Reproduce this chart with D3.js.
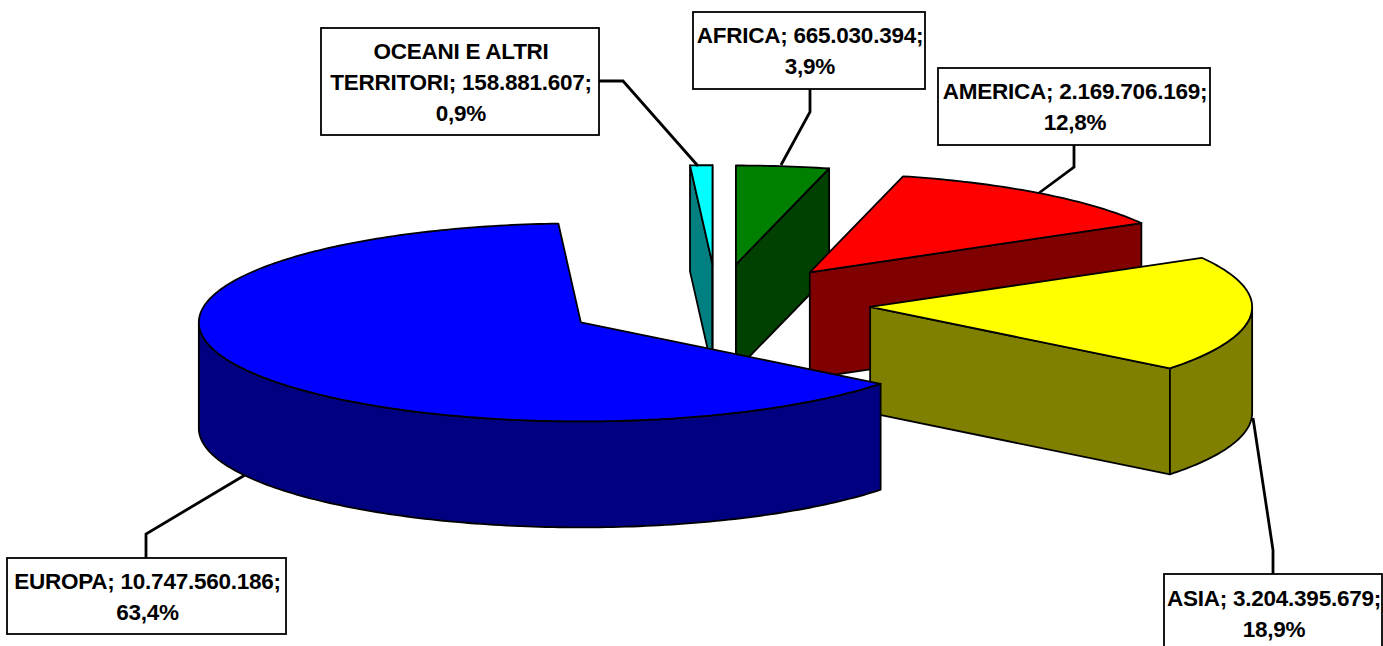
<!DOCTYPE html>
<html>
<head>
<meta charset="utf-8">
<script src="https://cdn.jsdelivr.net/npm/d3@7"></script>
<style>
html, body { margin: 0; padding: 0; background: #fff; overflow: hidden; }
svg { display: block; }
.label-text { font-family: "Liberation Sans", Arial, sans-serif; font-weight: bold; font-size: 22.5px; letter-spacing: -0.25px; text-anchor: middle; fill: #000; }
</style>
</head>
<body>
<div id="chart"></div>
<script>
var categories = ["EUROPA", "OCEANI E ALTRI TERRITORI", "AFRICA", "AMERICA", "ASIA"];
var values = [10747560186, 158881607, 665030394, 2169706169, 3204395679];
var valueLabels = ["10.747.560.186", "158.881.607", "665.030.394", "2.169.706.169", "3.204.395.679"];
var percentLabels = ["63,4%", "0,9%", "3,9%", "12,8%", "18,9%"];
var topColors = ["#0000ff", "#00ffff", "#008000", "#ff0000", "#ffff00"];
var sideColors = ["#000080", "#008080", "#004000", "#800000", "#808000"];

var width = 1383;
var height = 646;
var cx = 717;
var cy = 304;
var rx = 382;
var ry = 99;
var depth = 106;
var explode = 0.402;
var startDeg = 128.3;

// back slices first, Europa sits in front of all of them
var drawOrder = [1, 2, 3, 4, 0];

// label boxes and leader lines, same order as categories
var labelLayout = [
  { x: 7, y: 558, w: 279, h: 76, lines: ["EUROPA; " + valueLabels[0] + ";", percentLabels[0]], leader: [[146, 558], [146, 534], [245, 475]], first: 589 },
  { x: 321, y: 28, w: 278, h: 107, lines: ["OCEANI E ALTRI", "TERRITORI; " + valueLabels[1] + ";", percentLabels[1]], leader: [[599, 81], [623, 81], [698, 166]], first: 59 },
  { x: 693, y: 12, w: 232, h: 77, lines: ["AFRICA; " + valueLabels[2] + ";", percentLabels[2]], leader: [[810, 89], [810, 112], [781, 165]], first: 43 },
  { x: 938, y: 68, w: 272, h: 77, lines: ["AMERICA; " + valueLabels[3] + ";", percentLabels[3]], leader: [[1074, 145], [1074, 167], [1039, 193]], first: 99 },
  { x: 1164, y: 574, w: 218, h: 90, lines: ["ASIA; " + valueLabels[4] + ";", percentLabels[4]], leader: [[1273, 574], [1273, 550], [1253, 418]], first: 606 }
];

var rad = Math.PI / 180;

var xScale = d3.scaleLinear().domain([-1, 1]).range([cx - rx, cx + rx]);
var yScale = d3.scaleLinear().domain([-1, 1]).range([cy - ry, cy + ry]);

var pie = d3.pie()
  .sort(null)
  .startAngle(startDeg * rad)
  .endAngle((startDeg + 360) * rad);

var slices = pie(values);

var svg = d3.select("#chart").append("svg")
  .attr("width", width)
  .attr("height", height);

var line = d3.line();

// projected point on the tilted disc, r = 1 is the rim
function project(angle, r, slice, drop) {
  var mid = (slice.startAngle + slice.endAngle) / 2;
  var ux = r * Math.sin(angle) + explode * Math.sin(mid);
  var uy = -r * Math.cos(angle) - explode * Math.cos(mid);
  return [xScale(ux), yScale(uy) + (drop || 0)];
}

function rimPoints(a0, a1, slice, drop) {
  var n = Math.max(2, Math.ceil((a1 - a0) / rad));
  return d3.range(n + 1).map(function(i) {
    return project(a0 + (a1 - a0) * i / n, 1, slice, drop);
  });
}

function shape(g, pts, fill) {
  g.append("path")
    .attr("d", line(pts) + "Z")
    .attr("fill", fill)
    .attr("stroke", "#000")
    .attr("stroke-width", 1.8)
    .attr("stroke-linejoin", "round");
}

drawOrder.forEach(function(i) {
  var s = slices[i];
  var g = svg.append("g").attr("class", "slice");
  var side = sideColors[i];

  // cut faces that look toward the viewer
  [s.startAngle, s.endAngle].forEach(function(a, k) {
    var visible = k === 0 ? Math.sin(a) < -1e-6 : Math.sin(a) > 1e-6;
    if (!visible) return;
    var apex = project(a, 0, s);
    var rim = project(a, 1, s);
    shape(g, [apex, rim, [rim[0], rim[1] + depth], [apex[0], apex[1] + depth]], side);
  });

  // outer wall, only the front half of the disc shows
  [0, 360].forEach(function(turn) {
    var a0 = Math.max(s.startAngle, (90 + turn) * rad);
    var a1 = Math.min(s.endAngle, (270 + turn) * rad);
    if (a1 <= a0) return;
    var upper = rimPoints(a0, a1, s);
    var lower = rimPoints(a0, a1, s, depth).reverse();
    shape(g, upper.concat(lower), side);
  });

  var top = [project(s.startAngle, 0, s)].concat(rimPoints(s.startAngle, s.endAngle, s));
  shape(g, top, topColors[i]);
});

labelLayout.forEach(function(d) {
  svg.append("path")
    .attr("d", line(d.leader))
    .attr("fill", "none")
    .attr("stroke", "#000")
    .attr("stroke-width", 2.8);

  svg.append("rect")
    .attr("x", d.x)
    .attr("y", d.y)
    .attr("width", d.w)
    .attr("height", d.h)
    .attr("fill", "#fff")
    .attr("stroke", "#000")
    .attr("stroke-width", 1.8);

  d.lines.forEach(function(t, j) {
    svg.append("text")
      .attr("class", "label-text")
      .attr("x", d.x + d.w / 2 + 1)
      .attr("y", d.first + j * 31)
      .text(t);
  });
});
</script>
</body>
</html>
